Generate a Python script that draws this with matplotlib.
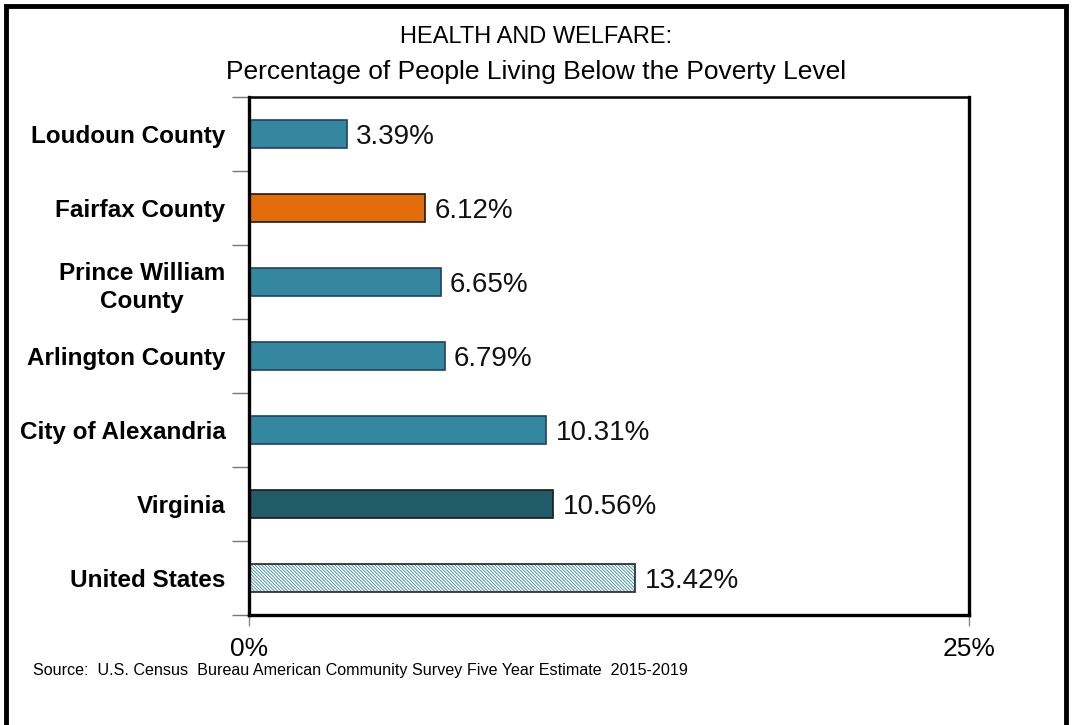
import matplotlib
matplotlib.use("Agg")
import matplotlib.pyplot as plt
from matplotlib.patches import Rectangle
from matplotlib import font_manager

categories = ["Loudoun County", "Fairfax County", "Prince William\nCounty",
              "Arlington County", "City of Alexandria", "Virginia", "United States"]
values = [3.39, 6.12, 6.65, 6.79, 10.31, 10.56, 13.42]
value_labels = ["3.39%", "6.12%", "6.65%", "6.79%", "10.31%", "10.56%", "13.42%"]
colors = ["#35879F", "#E36C0A", "#35879F", "#35879F", "#35879F", "#215A69", "#FFFFFF"]
hatches = [None, None, None, None, None, None, "\\\\\\\\\\\\\\\\\\\\"]
xtick_values = [0, 25]
xtick_labels = ["0%", "25%"]

names = {f.name for f in font_manager.fontManager.ttflist}
main = "Liberation Sans" if "Liberation Sans" in names else "DejaVu Sans"

fig = plt.figure(figsize=(10.72, 7.25), dpi=100)
ax = fig.add_axes([249/1072, 1-615/725, 720/1072, 518/725])

n = len(categories)
ypos = list(range(n))
plt.rcParams['hatch.linewidth'] = 0.6
for i, (v, c, h) in enumerate(zip(values, colors, hatches)):
    if h:
        plt.rcParams['hatch.color'] = "#35879F"
        ax.barh(i, v, height=0.38, color=c, edgecolor="#35879F", hatch=h, linewidth=0)
        ax.barh(i, v, height=0.38, color="none", edgecolor="#222222", linewidth=1.2)
    else:
        ax.barh(i, v, height=0.38, color=c, edgecolor="#1a1a1a" if c != "#35879F" else "#1F3F66", linewidth=1.2)
    ax.text(v + 0.33, i, value_labels[i], va="center_baseline", ha="left",
            fontsize=20, family=main, color="#111111")

ax.set_xlim(0, 25)
ax.set_ylim(n - 0.5, -0.5)
ax.set_xticks(xtick_values)
ax.set_xticklabels(xtick_labels, fontsize=19, family=main)
ax.tick_params(axis="x", length=8, width=1, color="#888888", pad=8)
ax.set_yticks(ypos)
ax.set_yticklabels(categories, fontsize=17.5, family=main, fontweight="bold",
                   multialignment="center", linespacing=1.3)
ax.tick_params(axis="y", which="major", length=0, pad=17)
ax.set_yticks([i - 0.5 for i in range(n + 1)], minor=True)
ax.tick_params(axis="y", which="minor", length=12, width=1, color="#777777")

for side in ["left", "bottom", "right"]:
    ax.spines[side].set_linewidth(2.4)
ax.spines["top"].set_linewidth(1.8)

fig.text(0.5, 1-37/725, "HEALTH AND WELFARE:", ha="center", va="center",
         fontsize=17, family=main, color="black")
fig.text(0.5, 1-72/725, "Percentage of People Living Below the Poverty Level", ha="center", va="center",
         fontsize=19, family=main, color="black")
fig.text(33/1072, 1-671/725, "Source:  U.S. Census  Bureau American Community Survey Five Year Estimate  2015-2019",
         ha="left", va="center", fontsize=11.6, family=main)

fig.patches.append(Rectangle((6/1072, -0.02), 1060/1072, 1 - 6/725 + 0.02,
                             transform=fig.transFigure, fill=False, edgecolor="black", linewidth=3.5))

fig.savefig("out.png", dpi=100)
